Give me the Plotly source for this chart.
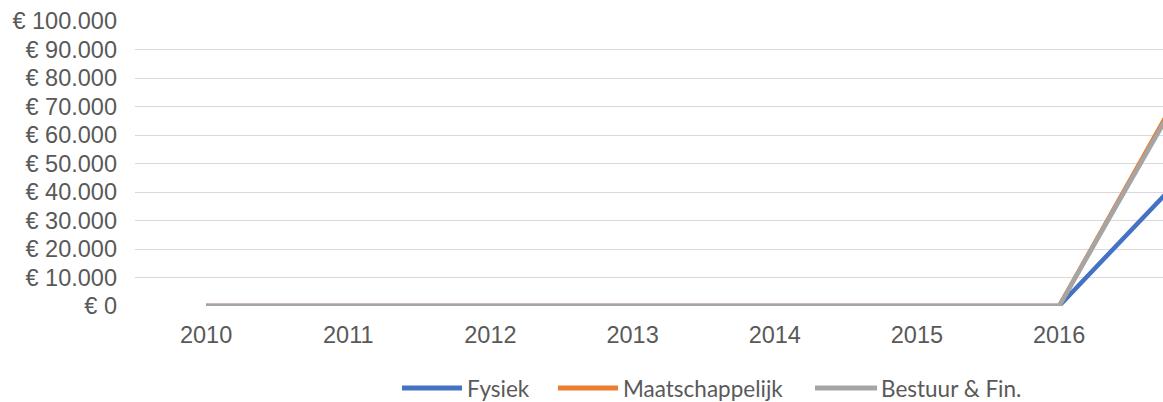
import plotly.graph_objects as go

years = [2010, 2011, 2012, 2013, 2014, 2015, 2016, 2017]
fysiek = [0, 0, 0, 0, 0, 0, 0, 52500]
maatschappelijk = [0, 0, 0, 0, 0, 0, 0, 88500]
bestuur = [0, 0, 0, 0, 0, 0, 0, 87300]

tick_years = [2010, 2011, 2012, 2013, 2014, 2015, 2016]
y_ticks = [0, 10000, 20000, 30000, 40000, 50000, 60000, 70000, 80000, 90000, 100000]
y_labels = ["€ 0", "€ 10.000", "€ 20.000", "€ 30.000", "€ 40.000", "€ 50.000",
            "€ 60.000", "€ 70.000", "€ 80.000", "€ 90.000", "€ 100.000"]

names = ["Fysiek", "Maatschappelijk", "Bestuur & Fin."]
colors = ["#4472C4", "#ED7D31", "#A5A5A5"]
values = [fysiek, maatschappelijk, bestuur]

W, H = 1163, 402
ml, mr, mt, mb = 135, 0, 21, 96
pw, ph = W - ml - mr, H - mt - mb
cat_w = 142.17
x0 = 2009.5
x1 = x0 + pw / cat_w

def px2x(px):
    return (px - ml) / pw

def py2y(py):
    return (H - mb - py) / ph

fig = go.Figure()
for name, vals, col in zip(names, values, colors):
    fig.add_trace(go.Scatter(x=years, y=vals, name=name, mode="lines",
                             line=dict(color=col, width=4.5), showlegend=False))

# custom legend (Excel-style long line samples)
leg_y = 388
leg_items = [(402, 462, 465), (558, 618, 621), (815, 877, 879)]
shapes = []
annotations = []
for (lx0, lx1, tx), name, col in zip(leg_items, names, colors):
    shapes.append(dict(type="line", xref="paper", yref="paper",
                       x0=px2x(lx0), x1=px2x(lx1), y0=py2y(leg_y), y1=py2y(leg_y),
                       line=dict(color=col, width=5)))
    annotations.append(dict(xref="paper", yref="paper", x=px2x(tx), y=py2y(leg_y),
                            xanchor="left", yanchor="middle", showarrow=False,
                            text=name, font=dict(family="Lato", size=22.5, color="#595959")))

fig.update_layout(
    width=W, height=H,
    margin=dict(l=ml, r=mr, t=mt, b=mb, autoexpand=False),
    plot_bgcolor="white", paper_bgcolor="white",
    font=dict(family="Liberation Sans, Arial", color="#595959", size=23.5),
    showlegend=False,
    shapes=shapes,
    annotations=annotations,
    xaxis=dict(range=[x0, x1], tickvals=tick_years, ticktext=[str(y) for y in tick_years],
               showgrid=False, zeroline=False, showline=False, ticks="",
               ticklabelstandoff=12, tickfont=dict(size=23.5), automargin=False),
    yaxis=dict(range=[0, 100000], tickvals=y_ticks, ticktext=y_labels,
               showgrid=True, gridcolor="#D9D9D9", gridwidth=1.3,
               zeroline=False, showline=False, ticks="",
               ticklabelstandoff=17, tickfont=dict(size=23.5), automargin=False),
)

fig.write_html("out.html", config={"displayModeBar": False},
               post_script="document.body.style.margin='0';document.body.style.overflow='hidden';")
